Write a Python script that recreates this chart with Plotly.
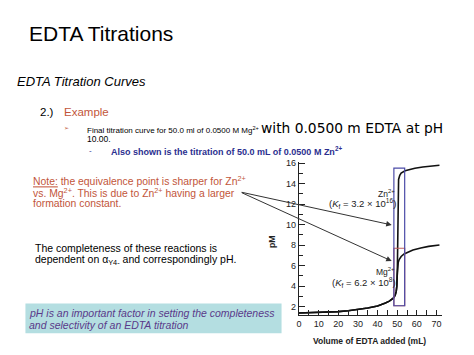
import plotly.graph_objects as go

# ---- data ----
vol_pre = [0, 5, 10, 15, 20, 25, 30, 35, 40, 42, 44, 46, 47, 48, 48.5, 49, 49.5, 49.8]
pM_pre = [1.40, 1.42, 1.44, 1.46, 1.53, 1.62, 1.73, 1.88, 2.08, 2.20, 2.36, 2.55, 2.68, 2.85, 2.97, 3.15, 3.50, 4.00]

vol_mg = [50.0, 50.2, 50.5, 51.0, 52.0, 53.5, 55.0, 58.0, 62.0, 66.0, 71.5]
pM_mg = [5.0, 5.8, 6.3, 6.6, 6.9, 7.15, 7.30, 7.52, 7.72, 7.88, 8.02]

vol_zn = [50.1, 50.25, 50.4, 50.7, 51.3, 52.0, 54.0, 56.0, 59.0, 63.0, 67.0, 71.5]
pM_zn = [6.0, 10.0, 13.5, 14.4, 14.8, 15.02, 15.25, 15.37, 15.50, 15.62, 15.70, 15.78]

x_ticks = [0, 10, 20, 30, 40, 50, 60, 70]
y_ticks = [2, 4, 6, 8, 10, 12, 14, 16]

# ---- layout geometry (pixels) ----
WIDTH, HEIGHT = 474, 355
L, R_EDGE = 298.5, 441.99
T, B = 162.28, 314.85
PW, PH = R_EDGE - L, B - T

FONT = "Liberation Sans, Arial, Helvetica, sans-serif"
ORANGE = "#c2553a"
NAVY = "#2b2f8f"
PURPLE = "#5a3a8a"


def P(px, py):
    return (px - L) / PW, (B - py) / PH


fig = go.Figure()
fig.add_trace(go.Scatter(x=vol_pre + vol_mg, y=pM_pre + pM_mg, mode="lines",
                         line=dict(color="#111", width=1.6), hoverinfo="skip"))
fig.add_trace(go.Scatter(x=vol_pre + vol_zn, y=pM_pre + pM_zn, mode="lines",
                         line=dict(color="#111", width=1.6), hoverinfo="skip"))

shapes = [
    dict(type="rect", xref="x", yref="y", x0=48.3, x1=53.8, y0=2.1, y1=7.7,
         line=dict(color="#c06060", width=1.2)),
    dict(type="rect", xref="x", yref="y", x0=48.3, x1=53.8, y0=2.1, y1=15.5,
         line=dict(color="#4b4ba8", width=1.2)),
]
bx0, by0 = P(24, 303.5)
bx1, by1 = P(281, 333)
shapes.append(dict(type="rect", xref="paper", yref="paper", x0=bx0, x1=bx1, y0=by1, y1=by0,
                   fillcolor="#b4dee1", line=dict(width=0), layer="below"))

ann = []


def text(px, py, s, size, color="black", xanchor="left", family=FONT, **kw):
    x, y = P(px, py)
    ann.append(dict(xref="paper", yref="paper", x=x, y=y, text=s, showarrow=False,
                    xanchor=xanchor, yanchor="middle", borderpad=0, borderwidth=0,
                    font=dict(family=family, size=size, color=color), **kw))


text(28, 34, "EDTA Titrations", 21)
text(16, 82, "<i>EDTA Titration Curves</i>", 13)
text(39, 112, "2.)", 11.5)
text(63, 112, "Example", 11.5, ORANGE)
text(63, 128, "➢", 6, ORANGE)
text(86, 128, "Final titration curve for 50.0 ml of 0.0500 M Mg<sup>2+</sup> "
     "<span style='font-family:DejaVu Sans;font-size:13.8px'>with 0.0500 m EDTA at pH</span>", 8)
text(86, 139.5, "10.00.", 8.5)
text(88, 151, "-", 8, NAVY)
text(110, 151, "<b>Also shown is the titration of 50.0 mL of 0.0500 M Zn<sup>2+</sup></b>", 9, NAVY)

text(32, 180.5, "<u>Note:</u> the equivalence point is sharper for Zn<sup>2+</sup>", 10.4, ORANGE)
text(32, 192.5, "vs. Mg<sup>2+</sup>. This is due to Zn<sup>2+</sup> having a larger", 10.4, ORANGE)
text(32, 204, "formation constant.", 10.4, ORANGE)

text(34, 248.5, "The completeness of these reactions is", 10.5)
text(34, 260.5, "dependent on α<sub>Y4-</sub> and correspondingly pH.", 10.5)

text(28, 312.5, "<i>pH is an important factor in setting the completeness</i>", 10.5, PURPLE)
text(28, 324.5, "<i>and selectivity of an EDTA titration</i>", 10.5, PURPLE)

# chart labels
text(395, 193.5, "Zn<sup>2+</sup>", 8.5, "#222", xanchor="right")
text(396, 204, "(<i>K</i><sub>f</sub> = 3.2 × 10<sup>16</sup>)", 9.5, "#222", xanchor="right")
text(395, 271, "Mg<sup>2+</sup>", 8.5, "#222", xanchor="right")
text(396, 282, "(<i>K</i><sub>f</sub> = 6.2 × 10<sup>8</sup>)", 9.5, "#222", xanchor="right")

text(369, 341, "<b>Volume of EDTA added (mL)</b>", 8.5, "#222", xanchor="center")
px_, py_ = P(272, 241.5)
ann.append(dict(xref="paper", yref="paper", x=px_, y=py_, text="<b>pM</b>", showarrow=False,
                textangle=-90, xanchor="center", yanchor="middle",
                font=dict(family=FONT, size=8.8, color="#222")))

# arrows from the note to the curves
for hx, hy, ax, ay in [(47.2, 9.97, -151.5, -33), (47.2, 6.46, -151.5, -69)]:
    ann.append(dict(xref="x", yref="y", x=hx, y=hy, ax=ax, ay=ay, showarrow=True,
                    arrowhead=2, arrowsize=1.1, arrowwidth=1, arrowcolor="#333", text=""))

fig.update_layout(
    width=WIDTH, height=HEIGHT,
    margin=dict(l=L, r=WIDTH - R_EDGE, t=T, b=HEIGHT - B, pad=0),
    paper_bgcolor="white", plot_bgcolor="white",
    showlegend=False, shapes=shapes, annotations=ann,
    font=dict(family=FONT, size=8.5, color="#222"),
    xaxis=dict(range=[0, 72.8], tickvals=x_ticks, ticks="inside", ticklen=5, tickwidth=1,
               tickcolor="#222", showline=True, linecolor="#222", linewidth=1.2,
               showgrid=False, zeroline=False, tickfont=dict(size=9),
               minor=dict(dtick=5, tick0=0, ticks="inside", ticklen=5, tickcolor="#222")),
    yaxis=dict(range=[1.2, 16.1], tickvals=y_ticks, ticks="inside", ticklen=6, tickwidth=1,
               tickcolor="#222", showline=True, linecolor="#222", linewidth=1.2,
               showgrid=False, zeroline=False, tickfont=dict(size=9),
               minor=dict(dtick=1, tick0=0, ticks="inside", ticklen=4, tickcolor="#222")),
)

fig.write_html("out.html", config={"displayModeBar": False},
               post_script="document.body.style.margin='0';document.body.style.overflow='hidden';")
